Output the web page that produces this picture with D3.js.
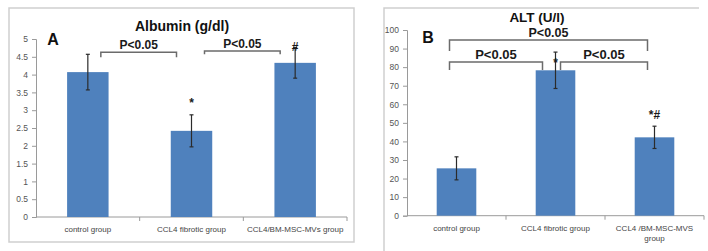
<!DOCTYPE html>
<html>
<head>
<meta charset="utf-8">
<script src="https://cdn.jsdelivr.net/npm/d3@7"></script>
<style>
  body { margin: 0; background: #fff; }
  svg { display: block; font-family: "Liberation Sans", Arial, sans-serif; }
</style>
</head>
<body>
<svg id="drawing_region"></svg>
<script>
// panel A data
const albuminGroups = ["control group", "CCL4 fibrotic group", "CCL4/BM-MSC-MVs group"];
const albuminMeans = [4.07, 2.42, 4.33];
const albuminErrors = [0.5, 0.45, 0.43];
const albuminTicks = [0, 0.5, 1, 1.5, 2, 2.5, 3, 3.5, 4, 4.5, 5];

// panel B data
const altGroups = ["control group", "CCL4 fibrotic group", ["CCL4 /BM-MSC-MVS", "group"]];
const altMeans = [25.5, 78.3, 42.2];
const altErrors = [6.2, 9.8, 6.0];
const altTicks = [0, 10, 20, 30, 40, 50, 60, 70, 80, 90, 100];

// significance brackets: from/to group index, line level, drop level
const albuminBrackets = [
    { from: 0, to: 1, level: 4.63, drop: 4.49, label: "P<0.05", size: 12 },
    { from: 1, to: 2, level: 4.66, drop: 4.57, label: "P<0.05", size: 12 }
];
const altBrackets = [
    { from: 0, to: 2, level: 94.6, drop: 88.7, label: "P<0.05", size: 12.5 },
    { from: 0, to: 1, level: 82.8, drop: 78.4, label: "P<0.05", size: 13 },
    { from: 1, to: 2, level: 82.8, drop: 78.4, label: "P<0.05", size: 13 }
];
const albuminMarks = [{ group: 1, value: 3.1, text: "*" }, { group: 2, value: 4.65, text: "#" }];
const altMarks = [{ group: 1, value: 80, text: "*" }, { group: 2, value: 52, text: "*#" }];

const svg = d3.select('#drawing_region')
    .attr('width', 708)
    .attr('height', 251);

// frames
svg.append('rect')
    .attr('x', 9).attr('y', 8).attr('width', 345).attr('height', 234)
    .attr('fill', 'none').attr('stroke', '#cfcfcf').attr('stroke-width', 1.5);
svg.append('path')
    .attr('d', 'M384,251V8H699')
    .attr('fill', 'none').attr('stroke', '#cfcfcf').attr('stroke-width', 1.5);

drawPanel({
    x0: 36, x1: 347, yTop: 39, yBottom: 217,
    max: 5, ticks: albuminTicks, groups: albuminGroups,
    means: albuminMeans, errors: albuminErrors,
    brackets: albuminBrackets, marks: albuminMarks,
    bracketOffsets: [[13, -15], [13, -15]],
    title: "Albumin (g/dl)", titleX: 182, titleY: 31, titleSize: 14,
    letter: "A", letterX: 53, letterY: 45
});

drawPanel({
    x0: 407, x1: 704, yTop: 30, yBottom: 215.7,
    max: 100, ticks: altTicks, groups: altGroups,
    means: altMeans, errors: altErrors,
    brackets: altBrackets, marks: altMarks,
    bracketOffsets: [[-7, -7], [-7, -13], [5, -7]],
    title: "ALT (U/l)", titleX: 537, titleY: 22, titleSize: 13.5,
    letter: "B", letterX: 428, letterY: 43
});

function drawPanel(cfg) {
    const g = svg.append('g');

    const x = d3.scaleBand()
        .domain(d3.range(cfg.groups.length))
        .range([cfg.x0, cfg.x1])
        .paddingInner(0.6)
        .paddingOuter(0.3);
    const band = d3.scaleBand()
        .domain(d3.range(cfg.groups.length))
        .range([cfg.x0, cfg.x1]);
    const y = d3.scaleLinear()
        .domain([0, cfg.max])
        .range([cfg.yBottom, cfg.yTop]);

    // y axis
    const yAxis = g.append('g')
        .attr('transform', `translate(${cfg.x0},0)`)
        .call(d3.axisLeft(y).tickValues(cfg.ticks).tickSize(4).tickPadding(4)
            .tickFormat(d => d));
    yAxis.select('.domain').attr('stroke', '#9a9a9a');
    yAxis.selectAll('.tick line').attr('stroke', '#9a9a9a');
    yAxis.selectAll('.tick text')
        .attr('fill', '#555')
        .style('font-size', '8.5px');

    // x axis
    g.append('line')
        .attr('x1', cfg.x0).attr('x2', cfg.x1)
        .attr('y1', cfg.yBottom).attr('y2', cfg.yBottom)
        .attr('stroke', '#9a9a9a');
    g.selectAll('.xtick')
        .data(d3.range(1, cfg.groups.length + 1))
        .enter()
        .append('line')
        .attr('x1', d => cfg.x0 + d * band.bandwidth())
        .attr('x2', d => cfg.x0 + d * band.bandwidth())
        .attr('y1', cfg.yBottom)
        .attr('y2', cfg.yBottom + 4)
        .attr('stroke', '#9a9a9a');

    // bars
    g.selectAll('.bar')
        .data(cfg.means)
        .enter()
        .append('rect')
        .attr('x', (d, i) => x(i))
        .attr('y', d => y(d))
        .attr('width', x.bandwidth())
        .attr('height', d => y(0) - y(d))
        .attr('fill', '#4f81bd');

    // error bars
    const err = g.selectAll('.err')
        .data(cfg.means)
        .enter()
        .append('g')
        .attr('stroke', '#2b2b2b')
        .attr('stroke-width', 1.2);
    const cx = i => x(i) + x.bandwidth() / 2;
    err.append('line')
        .attr('x1', (d, i) => cx(i)).attr('x2', (d, i) => cx(i))
        .attr('y1', (d, i) => y(d - cfg.errors[i]))
        .attr('y2', (d, i) => y(d + cfg.errors[i]));
    err.append('line')
        .attr('x1', (d, i) => cx(i) - 2).attr('x2', (d, i) => cx(i) + 2)
        .attr('y1', (d, i) => y(d + cfg.errors[i]))
        .attr('y2', (d, i) => y(d + cfg.errors[i]));
    err.append('line')
        .attr('x1', (d, i) => cx(i) - 2).attr('x2', (d, i) => cx(i) + 2)
        .attr('y1', (d, i) => y(d - cfg.errors[i]))
        .attr('y2', (d, i) => y(d - cfg.errors[i]));

    // category labels
    g.selectAll('.xlabel')
        .data(cfg.groups)
        .enter()
        .append('text')
        .attr('x', (d, i) => cx(i))
        .attr('y', cfg.yBottom + 15)
        .attr('text-anchor', 'middle')
        .attr('fill', '#444')
        .style('font-size', '8px')
        .each(function (d) {
            const lines = Array.isArray(d) ? d : [d];
            d3.select(this).selectAll('tspan')
                .data(lines)
                .enter()
                .append('tspan')
                .attr('x', d3.select(this).attr('x'))
                .attr('dy', (l, k) => k === 0 ? 0 : 10)
                .text(l => l);
        });

    // brackets
    cfg.brackets.forEach((b, k) => {
        const xa = cx(b.from) + cfg.bracketOffsets[k][0];
        const xb = cx(b.to) + cfg.bracketOffsets[k][1];
        g.append('path')
            .attr('d', `M${xa},${y(b.drop)}V${y(b.level)}H${xb}V${y(b.drop)}`)
            .attr('fill', 'none')
            .attr('stroke', '#6b6b6b')
            .attr('stroke-width', 1.5);
        g.append('text')
            .attr('x', (xa + xb) / 2)
            .attr('y', y(b.level) - 3)
            .attr('text-anchor', 'middle')
            .attr('font-weight', 'bold')
            .attr('fill', '#1a1a1a')
            .style('font-size', b.size + 'px')
            .text(b.label);
    });

    // significance marks
    g.selectAll('.mark')
        .data(cfg.marks)
        .enter()
        .append('text')
        .attr('x', d => cx(d.group))
        .attr('y', d => y(d.value))
        .attr('text-anchor', 'middle')
        .attr('font-weight', 'bold')
        .attr('fill', '#1a1a1a')
        .style('font-size', '12px')
        .text(d => d.text);

    // title and panel letter
    g.append('text')
        .attr('x', cfg.titleX).attr('y', cfg.titleY)
        .attr('text-anchor', 'middle')
        .attr('font-weight', 'bold')
        .attr('fill', '#111')
        .style('font-size', cfg.titleSize + 'px')
        .text(cfg.title);
    g.append('text')
        .attr('x', cfg.letterX).attr('y', cfg.letterY)
        .attr('text-anchor', 'middle')
        .attr('font-weight', 'bold')
        .attr('fill', '#111')
        .style('font-size', '16px')
        .text(cfg.letter);
}
</script>
</body>
</html>
